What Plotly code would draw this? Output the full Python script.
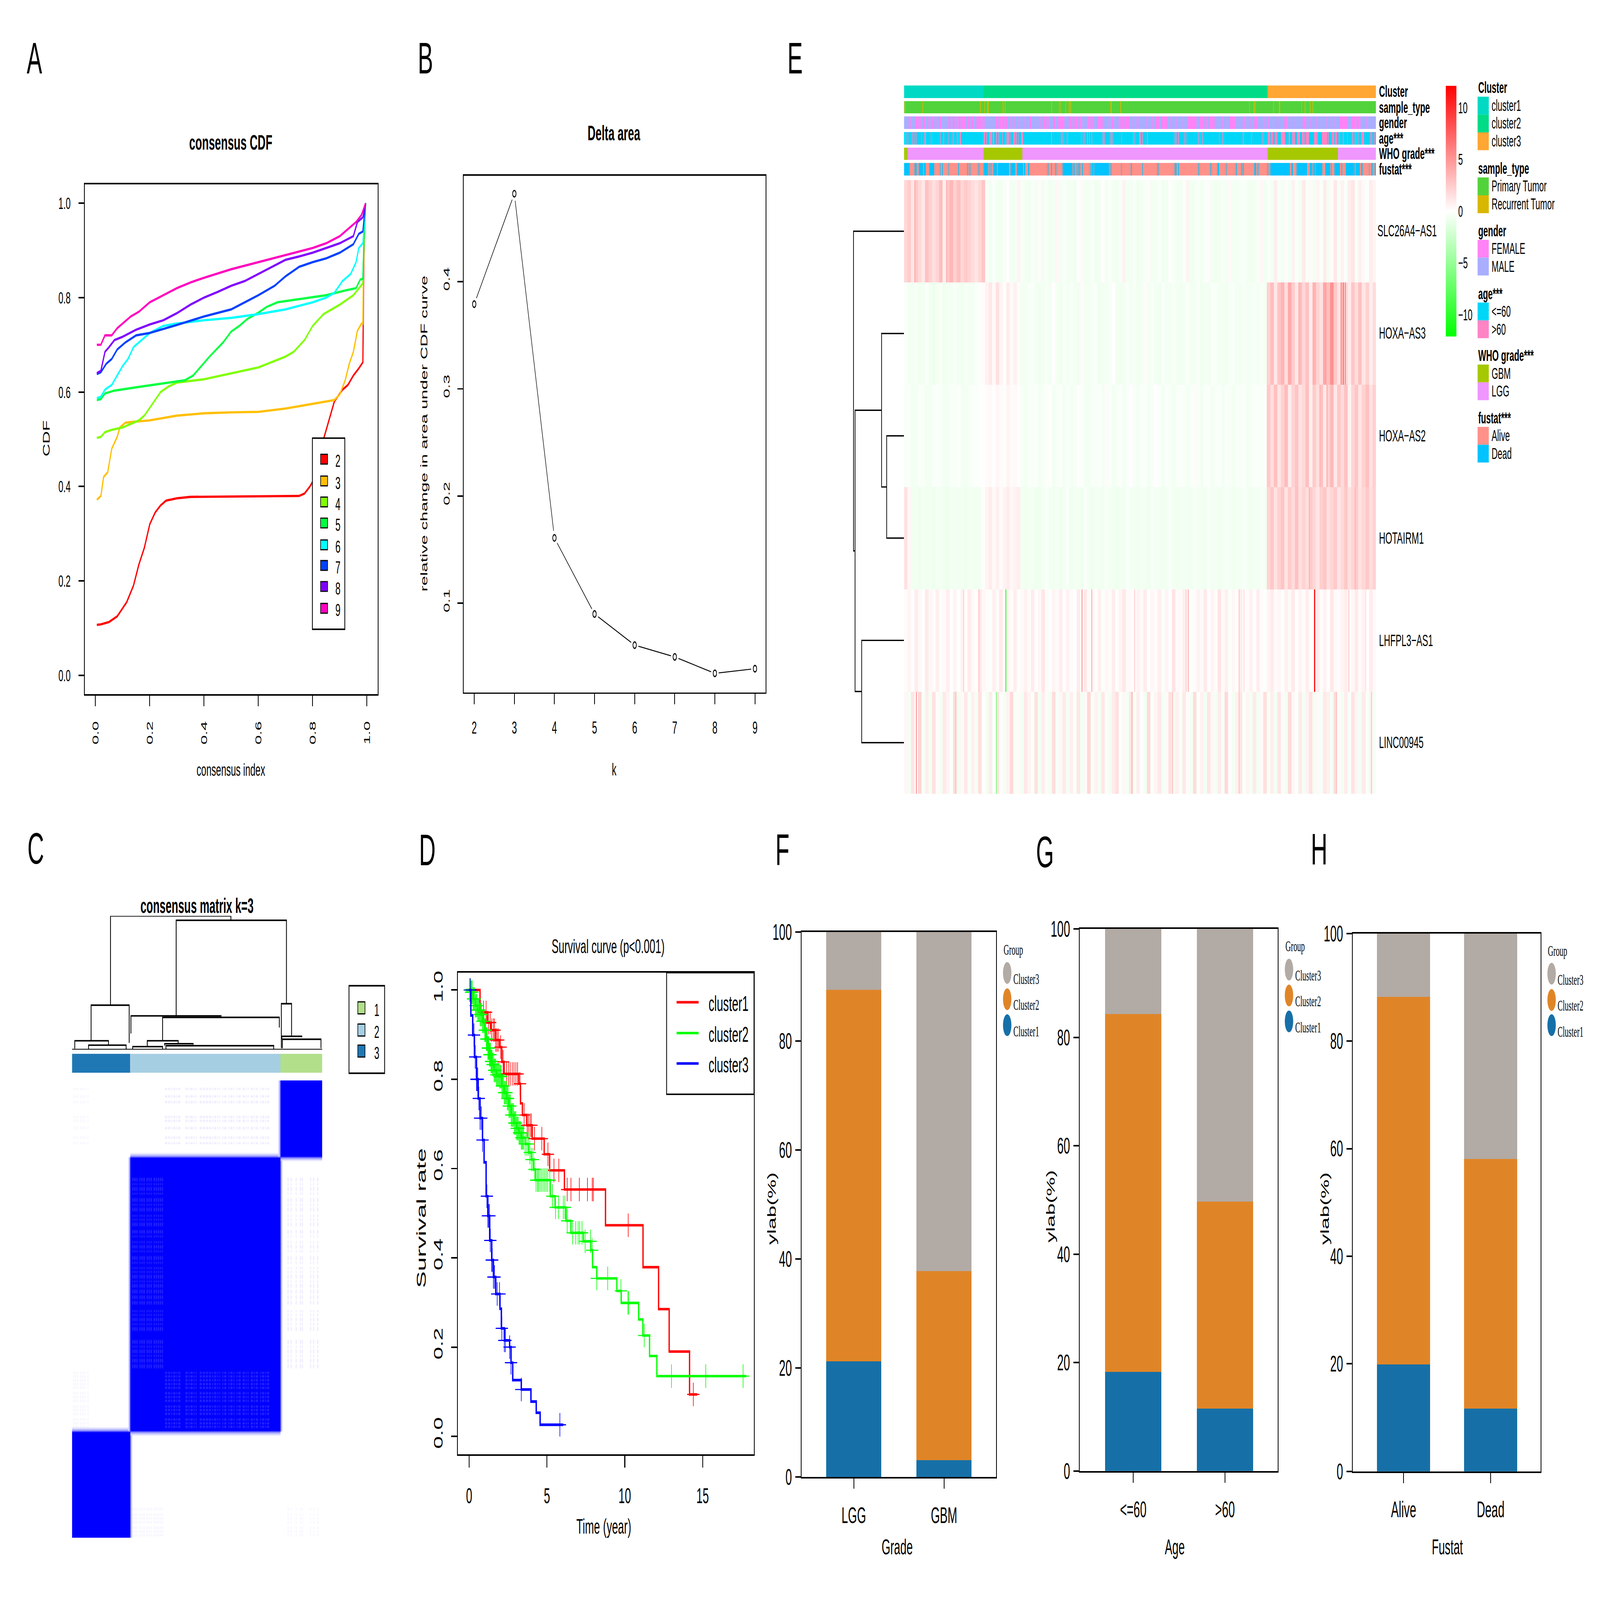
import numpy as np
import plotly.graph_objects as go

W, H = 8000, 4194
FONT = "Liberation Sans"
SERIF = "Liberation Serif"

# ---- panel A: consensus CDF
CDF_X = {
    "2": [.005,.02,.05,.08,.10,.115,.14,.16,.18,.2,.22,.24,.26,.3,.35,.7,.75,.77,.79,.81,.825,.84,.86,.88,.91,.93,.95,.97,.985,.986,.988,.99,.995],
    "3": [.005,.02,.03,.045,.06,.08,.09,.11,.14,.2,.3,.4,.5,.6,.7,.8,.88,.9,.92,.935,.95,.965,.98,.985,.987,.99,.995],
    "4": [.005,.02,.035,.06,.1,.13,.16,.18,.21,.24,.27,.3,.4,.5,.6,.7,.73,.77,.8,.84,.87,.9,.95,.97,.985,.99,.995],
    "5": [.005,.02,.035,.07,.15,.25,.33,.36,.39,.42,.47,.5,.53,.56,.6,.63,.67,.75,.85,.92,.96,.975,.985,.988,.995],
    "6": [.005,.02,.035,.06,.08,.1,.12,.14,.17,.2,.25,.3,.4,.5,.6,.7,.8,.85,.88,.91,.94,.96,.97,.985,.99,.995],
    "7": [.005,.02,.04,.06,.08,.11,.15,.2,.3,.4,.5,.6,.66,.7,.75,.8,.85,.9,.95,.97,.985,.995],
    "8": [.005,.02,.035,.05,.07,.1,.15,.2,.25,.3,.35,.4,.45,.5,.55,.6,.65,.7,.75,.8,.85,.9,.95,.965,.985,.995],
    "9": [.005,.02,.035,.06,.08,.1,.13,.16,.2,.25,.3,.35,.4,.5,.6,.7,.8,.85,.9,.93,.96,.98,.995],
}
CDF_Y = {
    "2": [.107,.108,.113,.125,.142,.155,.19,.235,.27,.32,.345,.36,.37,.375,.378,.379,.38,.385,.40,.42,.45,.50,.54,.58,.605,.615,.635,.65,.663,.75,.85,.92,1.0],
    "3": [.372,.38,.42,.43,.48,.505,.525,.535,.537,.54,.55,.555,.557,.558,.565,.575,.583,.595,.625,.66,.685,.73,.745,.745,.85,.92,1.0],
    "4": [.503,.505,.515,.52,.525,.533,.54,.55,.575,.6,.612,.62,.627,.64,.652,.675,.685,.71,.74,.765,.775,.785,.805,.82,.83,.95,1.0],
    "5": [.583,.585,.597,.603,.61,.618,.625,.635,.655,.675,.705,.728,.74,.755,.768,.78,.79,.797,.805,.815,.82,.838,.84,.9,1.0],
    "6": [.587,.59,.605,.615,.635,.655,.67,.695,.71,.725,.74,.745,.752,.757,.765,.775,.79,.80,.81,.835,.85,.875,.905,.915,.95,1.0],
    "7": [.638,.642,.66,.67,.69,.705,.72,.725,.742,.76,.775,.805,.825,.845,.865,.875,.883,.895,.913,.935,.94,1.0],
    "8": [.64,.645,.685,.695,.71,.717,.732,.743,.752,.767,.785,.80,.812,.825,.835,.85,.865,.88,.887,.895,.905,.915,.93,.96,.97,1.0],
    "9": [.70,.70,.72,.72,.735,.745,.76,.77,.79,.805,.82,.832,.842,.86,.875,.89,.905,.915,.93,.945,.96,.975,1.0],
}
CDF_COLORS = {"2": "#FF0000", "3": "#FFBF00", "4": "#80FF00", "5": "#00FF40",
              "6": "#00FFFF", "7": "#0040FF", "8": "#8000FF", "9": "#FF00BF"}

# ---- panel B: delta area
DELTA_K = [2, 3, 4, 5, 6, 7, 8, 9]
DELTA_AREA = [0.379, 0.482, 0.161, 0.09, 0.061, 0.05, 0.0347, 0.039]

# ---- panel C: consensus matrix
CLASS_SIZES = [57, 147, 41]  # class 3, class 2, class 1 from left to right
CLASS_COLORS = ["#1F78B4", "#A6CEE3", "#B2DF8A"]
BLOCK_FRINGE = [0.4, 0.15]  # pale blue seen just outside each block
LOOSE_C2 = [91,92,94,95,97,99,100,102,104,105,111,112,114,116,117,119,121,125,126,128,129,131,132,134,135,137,139,140,142,144,
            147,149,150,153,155,156,158,161,163,164,167,168,170,172,175,176,178,180,181,184,186,187,189,191,192]
LOOSE_C2_LEFT = [59,61,63,66,68,70,73,75,77,80,82,84,86,88]
LOOSE_C1 = [240,236,233,225,223,219,214,211]
LOOSE_C3 = [1,3,5,8,10,12,15]
C_DEND = [  # left, right, height, left child height, right child height
    (37.7,155.6,1.0,.332,.967), (102,210,.967,.255,.343), (18.7,56,.332,.066,.05), (2.7,35.7,.066,.007,.033),
    (16.2,53,.033,.004,.004), (57.7,146,.252,.12,.248), (88.7,203,.241,.066,.165), (73.7,104,.066,.022,.044),
    (59.4,88.7,.022,.004,.004), (90.7,118.6,.044,.029,.036), (92,197.5,.029,.004,.004), (205,215,.343,.01,.099),
    (205.5,225,.099,.077,.092), (206,243.8,.077,.01,.01),
]

# ---- panel D: survival curves
T1 = [0,.7,1.17,1.4,1.7,1.95,2.1,2.25,3.19,3.3,3.42,3.7,4.05,4.82,5.17,6.12,8.76,11.17,12.17,12.85,14.16,14.65]
S1 = [1,.95,.927,.91,.888,.872,.839,.812,.79,.746,.72,.697,.667,.632,.596,.553,.473,.379,.285,.19,.094,.094]
T2 = [-.2,0,.1,.25,.4,.55,.7,.85,1.0,1.1,1.2,1.3,1.4,1.48,1.6,1.75,1.95,2.1,2.25,2.41,2.55,2.7,2.88,3.05,3.2,3.35,3.6,3.81,4.0,4.12,4.28,5.21,5.52,6.22,6.54,7.34,7.81,7.93,8.2,9.49,9.77,10.89,11.16,11.59,12.06,17.8]
S2 = [1,1,.995,.98,.965,.955,.945,.93,.91,.89,.87,.855,.84,.833,.82,.81,.806,.785,.77,.757,.74,.72,.702,.69,.68,.669,.655,.636,.62,.598,.574,.538,.513,.483,.456,.437,.417,.379,.354,.326,.299,.262,.226,.18,.135,.135]
T3 = [0,.11,.23,.34,.47,.58,.7,.86,.96,1.09,1.2,1.32,1.45,1.56,1.71,1.98,2.07,2.26,2.6,2.69,2.8,3.35,3.97,4.31,4.56,6.05]
S3 = [1,.943,.899,.85,.80,.757,.713,.664,.614,.538,.494,.439,.395,.357,.319,.286,.242,.215,.2,.165,.126,.105,.078,.053,.026,.026]
CENSOR1 = [.93,1.09,1.24,1.35,1.45,1.56,1.63,1.71,1.79,1.87,2.02,2.18,2.41,2.53,2.64,2.77,2.88,3.0,3.11,3.27,3.53,3.73,3.81,3.92,4.0,4.2,4.67,5.06,5.45,5.76,6.3,6.54,7.08,7.6,7.91,7.98,10.22,14.4]
CENSOR2 = [.02,.05,.08,.12,.16,.2,.25,.3,.35,.4,.45,.5,.55,.6,.65,.7,.75,.8,.85,.9,.95,1.0,1.03,1.06,1.1,1.13,1.16,1.2,1.23,1.26,1.3,1.33,1.37,1.4,1.43,1.47,1.5,1.55,1.6,1.65,1.7,1.75,1.8,1.85,1.9,1.95,2.0,2.05,2.1,2.15,2.2,2.25,2.3,2.35,2.4,2.45,2.5,2.55,2.6,2.65,2.7,2.75,2.8,2.85,2.9,2.95,3.0,3.05,3.1,3.15,3.2,3.25,3.3,3.35,3.4,3.45,3.5,3.6,3.7,3.8,3.9,4.0,4.1,4.2,4.3,4.4,4.45,4.55,4.65,4.75,4.85,4.95,5.05,5.18,5.35,5.55,5.75,6.05,6.15,6.3,6.65,6.85,7.0,7.1,7.25,7.45,7.8,7.9,8.2,8.9,9.75,10.2,10.25,11.25,13.0,15.2,17.6]
CENSOR3 = [.08,.31,.39,.47,.5,.55,.62,.7,.78,.86,1.14,1.2,1.25,1.3,1.36,1.45,1.48,1.56,1.63,1.8,1.95,2.1,2.26,2.33,2.6,2.69,3.35,5.83]

# ---- panel E: annotation tracks, sample index runs (start, end) or single samples
N_SAMPLES = 670
CLUSTER_RUNS = [(0,112,0), (113,515,1), (516,669,2)]
RECURRENT = [1,26,108,114,118,119,140,143,209,220,222,229,234,236,293,294,307,490,496,498,524,532,533,564,569,576,580]
FEMALE = [5,8,10,13,(16,20),23,(27,30),(33,34),36,(40,42),45,(50,52),(63,65),(69,71),73,(77,79),(81,83),(84,87),(90,93),(96,98),102,(105,108),111,114,(130,133),(136,138),(139,142),(144,146),150,157,161,170,(178,180),189,194,(197,201),205,209,(212,214),(219,225),228,(234,238),(242,246),(248,250),254,257,(261,264),267,(275,281),289,(295,297),303,(307,312),(314,319),323,329,333,343,348,352,(357,362),(366,373),377,387,394,(402,414),(420,425),429,(433,440),452,456,(462,469),473,479,483,492,(497,501),507,511,517,527,532,(540,543),547,553,(566,570),576,585,592,599,604,610,(618,629),(635,640),(642,645),648,656,663]
OLD = [2,5,11,15,17,24,(29,30),38,51,56,63,69,75,(79,80),(113,114),117,(121,123),124,126,127,131,134,139,144,(146,148),150,(155,157),159,162,(166,168),209,223,225,231,252,255,260,263,266,282,284,293,295,308,326,(334,335),338,345,(384,386),389,398,400,418,423,447,452,481,493,509,(516,519),(521,523),(526,529),(535,537),(538,540),(546,547),(551,554),(558,561),(565,568),(570,574),(582,586),(593,600),602,(607,610),(612,614),617,623,629,636,640,644,(649,652),(662,664),667]
GBM = [(0,4),(113,167),(516,615)]
DEAD = [(0,7),(15,17),(21,25),26,(28,30),36,(37,42),51,54,63,77,90,93,106,(113,118),120,122,124,127,(128,131),(133,148),(151,157),(160,162),(163,168),(170,171),(176,177),204,209,215,(225,238),240,242,245,247,249,253,264,(266,268),(270,290),292,294,308,322,338,360,(384,386),389,418,435,445,446,457,471,479,481,(497,499),502,516,(520,529),(530,547),(550,551),(557,571),(576,579),(581,582),(584,593),(598,604),606,(611,618),621,(627,631),(632,639),(641,646),649,650,660,663,665,(668,669)]
ANNO_NAMES = ["Cluster", "sample_type", "gender", "age***", "WHO grade***", "fustat***"]
ANNO_COLORS = ["#00DAC5","#00DB87","#FFA633","#52D33B","#D8B700","#FF83F6","#A9AEFF",
               "#00D6F7","#FF84C5","#A6C800","#F096FF","#FF918A","#00C3FF"]
LEGEND_GROUPS = [
    ("Cluster", [("cluster1",0),("cluster2",1),("cluster3",2)]),
    ("sample_type", [("Primary Tumor",3),("Recurrent Tumor",4)]),
    ("gender", [("FEMALE",5),("MALE",6)]),
    ("age***", [("<=60",7),(">60",8)]),
    ("WHO grade***", [("GBM",9),("LGG",10)]),
    ("fustat***", [("Alive",11),("Dead",12)]),
]

# ---- panel E: expression, each row is 134 bins of 5 samples
GENES = ["SLC26A4\u2212AS1", "HOXA\u2212AS3", "HOXA\u2212AS2", "HOTAIRM1", "LHFPL3\u2212AS1", "LINC00945"]
EXPR_SLC = [1.9,2.4,1.2,2.6,1.8,1.1,2.9,2.2,1.5,2.0,
            3.1,0.8,2.7,3.4,2.2,3.0,1.9,2.5,2.1,1.6,
            1.3,1.9,2.7,-0.4,-0.6,-0.3,-0.5,-0.7,-0.4,0.1,
            -0.6,-0.5,0.5,-0.4,-0.6,-0.7,-0.3,-0.5,0.2,-0.6,
            -0.4,-0.7,-0.5,0.4,-0.6,-0.3,-0.6,-0.5,-0.7,-0.2,
            0.3,-0.6,-0.5,-0.4,-0.7,-0.6,0.1,-0.5,-0.3,-0.6,
            -0.7,-0.4,0.6,-0.5,-0.6,-0.3,-0.7,-0.5,-0.4,0.2,
            -0.6,-0.5,-0.3,-0.7,-0.6,0.1,-0.4,-0.5,-0.6,-0.3,
            0.5,-0.7,-0.6,-0.4,-0.5,-0.3,0.2,-0.6,-0.7,-0.5,
            -0.4,-0.6,0.3,-0.5,-0.6,-0.4,-0.3,-0.5,-0.7,-0.5,
            -0.4,0.4,-0.6,-0.3,-0.5,0.8,-0.4,-0.6,0.2,-0.5,
            0.6,-0.3,-0.5,1.0,-0.4,0.3,-0.6,0.5,-0.3,0.9,
            -0.5,0.2,1.1,-0.4,0.6,-0.3,0.8,1.2,-0.4,0.7,
            0.3,-0.2,0.9,0.5]
EXPR_AS3 = [-0.3,-0.5,-0.6,-0.4,-0.7,-0.5,-0.3,-0.6,-0.8,-0.5,
            -0.4,-0.7,-0.6,-0.5,-0.3,-0.6,-0.7,-0.4,-0.5,-0.6,
            -0.3,-0.2,0.2,0.6,1.1,0.3,1.4,0.5,-0.1,0.9,
            0.3,0.7,0.2,-0.5,-0.6,-0.4,-0.3,-0.5,-0.7,-0.5,
            -0.4,-0.6,0.1,-0.5,-0.7,-0.3,-0.6,-0.4,-0.5,-0.7,
            0.2,-0.5,-0.6,-0.4,-0.3,-0.7,-0.6,-0.5,-0.4,0.1,
            -0.6,-0.7,-0.5,-0.3,-0.6,-0.4,-0.7,-0.5,0.2,-0.6,
            -0.4,-0.5,-0.7,-0.3,-0.6,-0.5,-0.4,-0.6,-0.7,-0.5,
            -0.3,-0.6,-0.5,-0.4,-0.7,-0.5,-0.6,-0.3,-0.4,-0.6,
            -0.5,-0.7,-0.4,-0.3,-0.6,-0.5,-0.4,-0.6,-0.5,-0.4,
            -0.5,-0.4,-0.5,2.2,3.1,1.2,2.8,3.5,1.6,4.0,
            2.4,1.1,3.2,1.9,2.9,0.9,3.6,2.1,1.4,4.2,
            3.0,5.2,2.6,1.3,3.4,2.0,1.0,2.7,1.6,3.0,
            1.2,2.2,0.8,1.7]
EXPR_AS2 = [-0.4,-0.3,-0.5,-0.6,-0.3,-0.4,-0.6,-0.5,-0.3,-0.2,
            -0.4,-0.6,-0.5,-0.3,-0.4,-0.2,-0.5,-0.6,-0.4,-0.3,
            -0.2,-0.1,0.1,0.2,0.3,0.1,0.4,0.2,-0.2,0.5,
            0.2,0.3,0.1,-0.4,-0.5,-0.3,-0.4,-0.2,-0.6,-0.4,
            -0.3,0.1,-0.5,-0.4,-0.2,-0.6,-0.3,-0.5,-0.4,0.1,
            -0.2,-0.5,-0.6,-0.3,-0.4,-0.2,-0.5,0.2,-0.3,-0.6,
            -0.4,-0.2,-0.5,-0.3,0.1,-0.4,-0.6,-0.2,-0.3,-0.5,
            -0.4,0.1,-0.3,-0.5,-0.2,-0.4,-0.6,-0.3,-0.2,-0.4,
            -0.5,-0.3,0.2,-0.4,-0.6,-0.2,-0.3,-0.5,-0.4,-0.2,
            -0.5,-0.3,-0.4,-0.6,-0.3,-0.4,-0.2,-0.5,-0.4,-0.3,
            -0.2,-0.3,-0.2,2.6,1.6,3.0,1.2,2.2,3.2,0.9,
            2.1,2.8,1.3,1.8,3.0,0.8,2.4,1.5,2.9,1.0,
            2.2,3.3,1.1,2.6,1.7,2.9,0.6,2.0,2.7,1.2,
            2.2,3.0,1.4,2.3]
EXPR_HOT = [1.4,0.4,-0.7,-0.6,-0.8,-0.5,-0.7,-0.6,-0.8,-0.6,
            -0.5,-0.7,-0.8,-0.6,-0.5,-0.7,-0.6,-0.8,-0.5,-0.6,
            -0.7,-0.5,-0.2,0.5,0.9,0.3,0.7,0.2,0.6,0.9,
            0.4,0.6,0.8,-0.6,-0.7,-0.5,-0.6,-0.8,-0.7,-0.5,
            -0.3,-0.6,-0.7,-0.5,-0.8,-0.6,-0.4,-0.7,-0.6,-0.5,
            -0.7,-0.3,-0.6,-0.8,-0.5,-0.6,-0.7,-0.4,-0.6,-0.5,
            -0.8,-0.6,-0.7,-0.3,-0.5,-0.6,-0.7,-0.5,-0.6,-0.8,
            -0.4,-0.6,-0.5,-0.7,-0.6,-0.3,-0.5,-0.7,-0.6,-0.5,
            -0.6,-0.7,-0.4,-0.5,-0.6,-0.7,-0.3,-0.6,-0.5,-0.7,
            -0.6,-0.4,-0.5,-0.7,-0.6,-0.5,-0.3,-0.6,-0.7,-0.5,
            -0.6,-0.4,-0.5,2.0,2.6,1.4,2.2,2.8,1.3,2.4,
            1.7,2.9,1.4,2.1,1.6,2.5,1.9,1.2,2.3,2.7,
            1.5,2.0,2.5,1.3,1.8,2.6,1.4,2.0,2.4,1.4,
            1.9,2.5,1.6,2.2]
EXPR_LHF = [0.2,0.5,0.1,0.9,0.3,-0.1,1.0,0.4,0.2,0.7,
            -0.2,0.3,0.8,0.1,0.5,-0.1,0.6,0.2,0.9,0.3,
            0.1,1.1,0.4,0.2,-0.2,0.7,0.3,1.0,0.1,0.5,
            0.2,0.8,-0.1,0.3,0.6,0.2,0.9,0.1,0.4,1.2,
            0.2,-0.2,0.5,0.3,0.8,0.1,0.6,0.2,-0.1,0.9,
            0.3,1.0,0.2,0.5,0.1,0.7,-0.2,0.4,0.2,0.8,
            0.1,0.5,1.1,0.3,0.2,-0.1,0.6,0.3,0.9,0.1,
            0.4,0.2,0.7,-0.2,0.5,0.1,1.3,0.3,0.2,0.8,
            0.4,-0.1,0.2,0.6,0.3,1.0,0.1,0.5,0.2,1.2,
            0.3,0.7,-0.2,0.4,0.1,0.9,0.3,0.2,0.6,0.1,
            0.8,0.2,-0.1,0.5,0.9,0.2,0.4,-0.2,0.7,0.3,
            1.0,0.1,0.5,0.2,0.8,-0.1,0.3,0.9,0.2,0.6,
            0.1,1.1,0.3,0.2,0.5,0.8,-0.2,0.4,1.0,0.2,
            0.6,0.1,0.9,0.3]
EXPR_LIN = [0.4,-0.5,1.2,0.3,2.0,-0.4,0.8,-0.6,1.4,0.2,
            -0.5,1.0,0.5,-0.3,1.7,-0.6,0.3,1.1,-0.4,0.7,
            -0.5,1.5,0.1,-0.6,0.9,-0.3,1.3,0.2,-0.5,0.6,
            1.8,-0.4,0.3,-0.6,1.1,0.5,-0.3,1.4,-0.5,0.8,
            0.2,-0.6,1.6,-0.4,0.4,1.0,-0.5,0.7,-0.3,1.2,
            -0.6,0.3,1.9,-0.4,0.6,-0.5,1.1,0.2,-0.6,0.9,
            1.5,-0.3,0.4,-0.5,1.3,-0.4,0.8,0.1,-0.6,1.7,
            -0.3,0.5,1.0,-0.5,0.3,1.4,-0.6,0.7,-0.4,1.1,
            0.2,-0.5,1.6,-0.3,0.6,-0.6,1.2,0.4,-0.5,0.9,
            -0.4,1.8,0.1,-0.6,0.7,1.3,-0.3,0.5,-0.5,1.0,
            -0.6,0.3,1.5,-0.4,0.8,-0.5,1.2,0.2,-0.6,1.7,
            0.4,-0.3,1.0,-0.5,0.6,1.4,-0.6,0.3,-0.4,1.1,
            0.7,-0.5,1.6,0.2,-0.6,0.9,-0.3,1.3,0.5,-0.5,
            1.0,-0.4,0.6,-0.5]
# single samples that stand out: (row, sample, value)
EXPR_PEAKS = [(4,582,11.5),(4,583,11),(4,252,5.5),(4,144,-11.5),(4,266,4),(4,400,4.5),(4,403,4),(4,475,3),(4,482,3.2),(4,84,2.5),(4,106,3),(4,327,2.6),(4,631,3),(4,655,2.5),
              (5,17,5.5),(5,131,-6),(5,323,4),(5,73,3),(5,613,3.2),(5,663,3),(5,381,3.5),(5,475,3),
              (1,620,6),(1,623,7),(1,626,6.5),(1,598,4.5),(1,560,4),
              (0,15,4.5),(0,60,4),(2,600,4.5),(2,590,4),(3,575,4),(3,640,3.8)]
E_DEND = [  # height, row a, row b, child height a, child height b
    (34,2,3,0,0), (44,1,2.5,0,34), (83,4,5,0,0), (96,1.75,4.5,44,83), (99,0,3.125,0,96),
]

# ---- panels F, G, H: stacked bars in percent
F_CATS, G_CATS, H_CATS = ["LGG","GBM"], ["<=60",">60"], ["Alive","Dead"]
F_C1, F_C2, F_C3 = [21.2,3.1], [68.2,34.7], [10.6,62.2]
G_C1, G_C2, G_C3 = [18.3,11.5], [66.0,38.2], [15.7,50.3]
H_C1, H_C2, H_C3 = [19.9,11.7], [68.3,46.4], [11.8,41.9]
BAR_COLORS = ["#1670A7", "#E08527", "#B2AAA4"]


layout = dict(width=W, height=H, margin=dict(l=0, r=0, t=0, b=0, pad=0), paper_bgcolor="white",
              plot_bgcolor="rgba(0,0,0,0)", showlegend=False, barmode="stack",
              font=dict(family=FONT, color="black"))
traces, annotations, shapes = [], [], []
n_axes = 0


def new_axes(x0, x1, y0, y1, xa, ya):
    global n_axes
    n_axes += 1
    s = "" if n_axes == 1 else str(n_axes)
    layout["xaxis" + s] = dict(domain=[x0 / W, x1 / W], anchor="y" + s, **xa)
    layout["yaxis" + s] = dict(domain=[1 - y1 / H, 1 - y0 / H], anchor="x" + s, **ya)
    return dict(xaxis="x" + s, yaxis="y" + s)


def boxed(rng, vals, size, standoff, angle=0, text=None, ticklen=27):
    d = dict(range=rng, tickvals=vals, tickfont=dict(size=size, family=FONT, color="black"), ticks="outside",
             ticklen=ticklen, tickwidth=4, tickcolor="black", showline=True, linewidth=4, linecolor="black",
             mirror=True, showgrid=False, zeroline=False, ticklabelstandoff=standoff, tickangle=angle)
    if text:
        d["ticktext"] = text
    return d


def hidden(rng):
    return dict(range=rng, visible=False, showgrid=False, zeroline=False)


def label(x, y, text, size, bold=False, angle=0, anchor="center", family=FONT):
    annotations.append(dict(x=x / W, y=1 - y / H, xref="paper", yref="paper", showarrow=False,
                            text="<b>%s</b>" % text if bold else text, textangle=angle, xanchor=anchor, yanchor="middle",
                            font=dict(size=size, family=family, color="black")))


def rect(x0, y0, x1, y1, fill, line=None, lw=0):
    shapes.append(dict(type="rect", xref="paper", yref="paper", x0=x0 / W, x1=x1 / W, y0=1 - y1 / H, y1=1 - y0 / H,
                       fillcolor=fill, line=dict(color=line or fill, width=lw)))


for letter, x, y in [("A",172,122),("B",2127,122),("E",3975,122),("C",178,2225),("D",2136,2230),
                     ("F",3912,2230),("G",5224,2235),("H",6595,2228)]:
    label(x, y, letter, 115)

# ---- A
ref = new_axes(423, 1889, 457, 1815, boxed([-.04,1.04], [0,.2,.4,.6,.8,1], 44, 22, -90, ["0.0","0.2","0.4","0.6","0.8","1.0"]),
               boxed([-.04,1.04], [0,.2,.4,.6,.8,1], 44, 30, 0, ["0.0","0.2","0.4","0.6","0.8","1.0"]))
for k in CDF_X:
    traces.append(go.Scatter(x=CDF_X[k], y=CDF_Y[k], mode="lines", line=dict(color=CDF_COLORS[k], width=6), **ref))
label(1154, 345, "consensus CDF", 55, bold=True)
label(1154, 2016, "consensus index", 46)
label(233, 1134, "CDF", 46, angle=-90)
rect(1562, 1133, 1724, 1642, "white", "black", 4)
for k, yy in zip(CDF_X, [1189,1247,1303,1359,1417,1472,1528,1586]):
    rect(1603, yy - 13, 1638, yy + 13, CDF_COLORS[k], "black", 3)
    label(1690, yy + 5, k, 46)

# ---- B
ref = new_axes(2318, 3828, 434, 1810, boxed([1.735,9.265], DELTA_K, 46, 22),
               boxed([.0169,.4989], [.1,.2,.3,.4], 44, 22, -90, ["0.1","0.2","0.3","0.4"]))
traces.append(go.Scatter(x=DELTA_K, y=DELTA_AREA, mode="lines", line=dict(color="black", width=2.5), **ref))
traces.append(go.Scatter(x=DELTA_K, y=DELTA_AREA, mode="markers", marker=dict(size=38, color="white"), **ref))
traces.append(go.Scatter(x=DELTA_K, y=DELTA_AREA, mode="markers",
                         marker=dict(size=17, color="white", line=dict(color="black", width=3.5)), **ref))
label(3069, 321, "Delta area", 55, bold=True)
label(3071, 2014, "k", 46)
label(2121, 1121, "relative change in area under CDF curve", 46, angle=-90)

# ---- C
n_cons = sum(CLASS_SIZES)
stops = np.cumsum([0] + CLASS_SIZES)
cons = np.zeros((n_cons, n_cons))
for a, b in zip(stops[:-1], stops[1:]):
    for d, val in enumerate(BLOCK_FRINGE):
        for edge in (a - 1 - d, b + d):
            if 0 <= edge < n_cons:
                cons[edge, a:b] = val
                cons[a:b, edge] = val
for a, b in zip(stops[:-1], stops[1:]):
    cons[a:b, a:b] = 1
for i in LOOSE_C1:
    cons[i, LOOSE_C2] = 0.09
    cons[LOOSE_C2, i] = 0.09
    cons[i, LOOSE_C3] = 0.05
    cons[LOOSE_C3, i] = 0.05
for i in LOOSE_C2:
    cons[i, LOOSE_C2_LEFT] = 0.82
    cons[LOOSE_C2_LEFT, i] = 0.82
for i in LOOSE_C2_LEFT:
    cons[i, LOOSE_C3] = 0.06
    cons[LOOSE_C3, i] = 0.06
ref = new_axes(360, 1611, 2843, 4061, hidden([0, n_cons]), hidden([0, n_cons]))
traces.append(go.Heatmap(z=cons, x0=.5, dx=1, y0=.5, dy=1, zmin=0, zmax=1, zsmooth="best", showscale=False,
                         colorscale=[[0,"#FFFFFF"],[1,"#0000FF"]], **ref))
ref = new_axes(360, 1611, 2772, 2823, hidden([0, n_cons]), hidden([0, 1]))
class_row = np.repeat([0, 1, 2], CLASS_SIZES)
traces.append(go.Heatmap(z=[class_row], x0=.5, dx=1, y=[.5], zmin=0, zmax=2, showscale=False,
                         colorscale=[[0,CLASS_COLORS[0]],[.33,CLASS_COLORS[0]],[.33,CLASS_COLORS[1]],[.67,CLASS_COLORS[1]],
                                     [.67,CLASS_COLORS[2]],[1,CLASS_COLORS[2]]], **ref))
ref = new_axes(360, 1611, 2405, 2761, hidden([0, n_cons]), hidden([0, 1]))
dx, dy = [0, n_cons + .7, None], [0, 0, None]
for l, r, h, hl, hr in C_DEND:
    dx += [l, l, r, r, None]
    dy += [hl, h, h, hr, None]
traces.append(go.Scatter(x=dx, y=dy, mode="lines", line=dict(color="black", width=4), **ref))
label(985, 2378, "consensus matrix k=3", 54, bold=True)
rect(1745, 2591, 1923, 2824, "white", "black", 4)
for txt, col, yy in [("1",CLASS_COLORS[2],2650),("2",CLASS_COLORS[1],2709),("3",CLASS_COLORS[0],2765)]:
    rect(1789, yy - 16, 1825, yy + 16, col, "black", 3)
    label(1884, yy + 5, txt, 46)

# ---- D
ref = new_axes(2290, 3770, 2556, 3839, boxed([-.716,18.3], [0,5,10,15], 56, 26, 0, ticklen=30),
               boxed([-.0405,1.039], [0,.2,.4,.6,.8,1], 60, 20, -90, ["0.0","0.2","0.4","0.6","0.8","1.0"], ticklen=30))
for t, s, cens, col, lw in [(T1,S1,CENSOR1,"#FF0000",6.5), (T2,S2,CENSOR2,"#00FF00",6.5), (T3,S3,CENSOR3,"#0000FF",7)]:
    traces.append(go.Scatter(x=t, y=s, mode="lines", line=dict(color=col, width=lw, shape="hv"), **ref))
    y_cens = np.array(s)[np.searchsorted(t, cens, side="right") - 1]
    traces.append(go.Scatter(x=cens, y=y_cens, mode="markers",
                             marker=dict(symbol="cross-thin", size=44, line=dict(color=col, width=3)), **ref))
label(3040, 2486, "Survival curve (p<0.001)", 52)
label(3019, 4030, "Time (year)", 54)
label(2107, 3210, "Survival rate", 66, angle=-90)
rect(3333, 2556, 3770, 2880, "white", "black", 4)
for txt, col, yy in [("cluster1","#FF0000",2635),("cluster2","#00FF00",2717),("cluster3","#0000FF",2798)]:
    shapes.append(dict(type="line", xref="paper", yref="paper", x0=3383/W, x1=3493/W, y0=1-yy/H, y1=1-yy/H,
                       line=dict(color=col, width=6.5)))
    label(3541, yy + 3, txt, 57, anchor="left")

# ---- E annotation tracks
anno = np.zeros((6, N_SAMPLES))


def paint(row, runs, code):
    for r in runs:
        a, b = r if isinstance(r, tuple) else (r, r)
        anno[row, a:b + 1] = code


for a, b, code in CLUSTER_RUNS:
    anno[0, a:b + 1] = code
anno[1] = 3
paint(1, RECURRENT, 4)
anno[2] = 6
paint(2, FEMALE, 5)
anno[3] = 7
paint(3, OLD, 8)
anno[4] = 10
paint(4, GBM, 9)
anno[5] = 11
paint(5, DEAD, 12)
n_col = len(ANNO_COLORS)
anno_scale = []
for i, c in enumerate(ANNO_COLORS):
    anno_scale += [[i / n_col, c], [(i + 1) / n_col, c]]
ref = new_axes(4520, 6880, 190, 438, hidden([0, N_SAMPLES]), hidden([5.5, -.5]))
traces.append(go.Heatmap(z=anno, x0=.5, dx=1, y=list(range(6)), zmin=-.5, zmax=n_col - .5, colorscale=anno_scale,
                         showscale=False, ygap=8, **ref))
for name, yy in zip(ANNO_NAMES, [210,252,293,335,375,417]):
    label(6893, yy, name, 42, bold=True, anchor="left")

# ---- E expression
expr = np.array([EXPR_SLC, EXPR_AS3, EXPR_AS2, EXPR_HOT, EXPR_LHF, EXPR_LIN])
expr = np.repeat(expr, 5, axis=1)
for row, sample, value in EXPR_PEAKS:
    expr[row, sample] = value
ref = new_axes(4520, 6880, 446, 2080, hidden([0, N_SAMPLES]), hidden([5.5, -.5]))
traces.append(go.Heatmap(z=expr, x0=.5, dx=1, y=list(range(6)), zmin=-12.1, zmax=12.1,
                         colorscale=[[0,"#00FF00"],[.5,"#FFFFFF"],[1,"#FF0000"]],
                         colorbar=dict(x=7229/W, xanchor="left", y=1-195/H, yanchor="top", len=(862-195)/H, thickness=53,
                                       outlinewidth=0, xpad=0, ypad=0, ticks="", tickvals=[10,5,0,-5,-10],
                                       ticktext=["10","5","0","\u22125","\u221210"],
                                       tickfont=dict(size=42, family=FONT, color="black")), **ref))
for gene, yy, xx in zip(GENES, [581,853,1126,1398,1671,1943], [6885,6893,6893,6893,6893,6893]):
    label(xx, yy, gene, 44, anchor="left")
ref = new_axes(4265, 4520, 446, 2080, hidden([100, 0]), hidden([5.5, -.5]))
dx, dy = [], []
for h, a, b, ha, hb in E_DEND:
    dx += [ha, h, h, hb, None]
    dy += [a, a, b, b, None]
traces.append(go.Scatter(x=dx, y=dy, mode="lines", line=dict(color="black", width=3.5), **ref))

leg_top = {"Cluster":200, "sample_type":415, "gender":581, "age***":748, "WHO grade***":913, "fustat***":1079}
for title, items in LEGEND_GROUPS:
    y0 = leg_top[title]
    label(7389, y0, title, 42, bold=True, anchor="left")
    for j, (txt, code) in enumerate(items):
        ya = y0 + 24 + j * 47.5
        rect(7388, ya, 7444, ya + 47.5, ANNO_COLORS[code])
        label(7456, ya + 23, txt, 42, anchor="left")

# ---- F, G, H
panels = [
    (4008,4981,2448,3899,[-.578,1.578],F_CATS,F_C1,F_C2,F_C3,3971,20,(3860,3184,"ylab(%)"),(4486,4085,"Grade"),(5016,2495,5036,[2557,2627,2696],5065,[2573,2642,2712])),
    (5399,6388,2440,3883,[-.582,1.573],G_CATS,G_C1,G_C2,G_C3,3956,20,(5255,3178,"ylab(%)"),(5874,4085,"Age"),(6425,2486,6445,[2548,2617,2686],6474,[2564,2633,2702])),
    (6764,7703,2452,3884,[-.584,1.575],H_CATS,H_C1,H_C2,H_C3,3956,20,(6625,3184,"ylab(%)"),(7237,4085,"Fustat"),(7737,2499,7758,[2559,2629,2696],7786,[2575,2644,2713])),
]
for x0,x1,y0,y1,xr,cats,c1,c2,c3,ty,so,yl,xl,lg in panels:
    xa = boxed(xr, [0,1], 58, so, 0, cats)
    xa["type"] = "linear"
    ref = new_axes(x0, x1, y0, y1, xa, boxed([0,100], [0,20,40,60,80,100], 58, 6))
    for vals, col in zip([c1,c2,c3], BAR_COLORS):
        traces.append(go.Bar(x=[0,1], y=vals, width=.61, marker=dict(color=col, line=dict(width=0)), **ref))
    label(yl[0], yl[1], yl[2], 56, angle=-90)
    label(xl[0], xl[1], xl[2], 56)
    label(lg[0], lg[1], "Group", 38, anchor="left", family=SERIF)
    for cy, ly, col, txt in zip(lg[3], lg[5], BAR_COLORS[::-1], ["Cluster3","Cluster2","Cluster1"]):
        shapes.append(dict(type="circle", xref="paper", yref="paper", x0=(lg[2]-21)/W, x1=(lg[2]+21)/W,
                           y0=1-(cy+29)/H, y1=1-(cy-29)/H, fillcolor=col, line=dict(width=0)))
        label(lg[4], ly, txt, 38, anchor="left", family=SERIF)

fig = go.Figure(data=traces)
fig.update_layout(layout, annotations=annotations, shapes=shapes)

# the browser can open smaller than the figure, so fit the whole page to the window it really has
fit_page = """
document.body.style.margin = '0';
document.documentElement.style.overflow = 'hidden';
var gd = document.querySelector('.plotly-graph-div');
gd.style.transformOrigin = '0 0';
gd.style.transform = 'scale(' + innerWidth / %d + ',' + innerHeight / %d + ')';
""" % (W, H)
fig.write_html("out.html", post_script=fit_page, config=dict(displayModeBar=False))
